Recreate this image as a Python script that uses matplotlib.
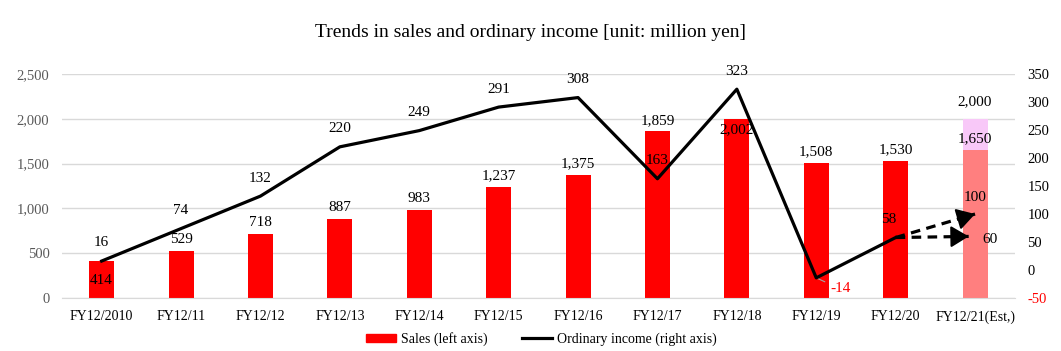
import matplotlib.pyplot as plt
import numpy as np
from matplotlib.patches import Patch
from matplotlib.lines import Line2D

plt.rcParams['font.family'] = ['Liberation Serif', 'DejaVu Serif']

# Data
years = ["FY12/2010", "FY12/11", "FY12/12", "FY12/13", "FY12/14", "FY12/15",
         "FY12/16", "FY12/17", "FY12/18", "FY12/19", "FY12/20", "FY12/21(Est,)"]
sales = [414, 529, 718, 887, 983, 1237, 1375, 1859, 2002, 1508, 1530, 1650]
sales_est_high = 2000
income = [16, 74, 132, 220, 249, 291, 308, 163, 323, -14, 58]
income_est = [100, 60]

x = np.arange(len(years))

fig = plt.figure(figsize=(10.61, 3.51), dpi=100)
ax = fig.add_axes([0.0584, 0.151, 0.898, 0.638])
ax2 = ax.twinx()

# Bars
colors = ["#FF0000"] * (len(years) - 1) + ["#FF7F7F"]
ax.bar(x, sales, width=0.315, color=colors, zorder=2)
ax.bar(x[-1], sales_est_high - sales[-1], bottom=sales[-1], width=0.315,
       color="#F8C8F8", zorder=2)

ax.set_xlim(-0.5, len(years) - 0.5)
ax.set_ylim(0, 2500)
ax.set_yticks(np.arange(0, 2501, 500))
ax.set_yticklabels([f"{v:,}" for v in range(0, 2501, 500)], color="#595959", fontsize=10.5)
ax.grid(axis="y", color="#D9D9D9", lw=1, zorder=0)
ax.set_axisbelow(True)
ax.set_xticks(x)
ax.set_xticklabels(years, fontsize=10)
ax.tick_params(axis="both", length=0, pad=9)
for s in ["top", "right", "left"]:
    ax.spines[s].set_visible(False)
ax.spines["bottom"].set_color("#D9D9D9")

# Line on right axis
ax2.plot(x[:len(income)], income, color="black", lw=2.3, zorder=4)
ax2.set_ylim(-50, 350)
ax2.set_yticks(np.arange(-50, 351, 50))
ax2.set_yticklabels([str(v) for v in range(-50, 351, 50)], fontsize=10.5)
ax2.get_yticklabels()[0].set_color("red")
ax2.tick_params(axis="y", length=0, pad=9)
for s in ["top", "right", "left", "bottom"]:
    ax2.spines[s].set_visible(False)

# Dashed arrows for estimates
x0, y0 = x[len(income) - 1], income[-1]
for yt, xt in zip(income_est, [x[-1], x[-1] - 0.08]):
    ax2.plot([x0, xt], [y0, yt], color="black", lw=2.3, ls=(0, (3, 2)), zorder=4)
    ax2.annotate("", xy=(xt, yt), xytext=(x0 + 0.8 * (xt - x0), y0 + 0.8 * (yt - y0)),
                 arrowprops=dict(arrowstyle="-|>,head_length=0.5,head_width=0.3",
                                 color="black", lw=1.5,
                                 mutation_scale=22, shrinkA=0, shrinkB=0), zorder=5)

# Sales labels
fs = 11
for i, v in enumerate(sales):
    if i == 0:
        dy = -14
    elif i == 8:
        dy = -8
    else:
        dy = 8
    ax.annotate(f"{v:,}", (x[i], v), xytext=(0, dy), textcoords="offset points",
                ha="center", va="center", fontsize=fs)
ax.annotate(f"{sales_est_high:,}", (x[-1], sales_est_high), xytext=(0, 12),
            textcoords="offset points", ha="center", va="center", fontsize=fs)

# Income labels
for i, v in enumerate(income):
    if v < 0:
        ax2.annotate(f"{v}", (x[i], v), xytext=(10, -8), textcoords="offset points",
                     ha="left", va="center", fontsize=fs, color="red",
                     arrowprops=dict(arrowstyle="-", color="#A6A6A6", lw=0.8,
                                     shrinkA=2, shrinkB=0))
    elif i == len(income) - 1:
        ax2.annotate(f"{v}", (x[i], v), xytext=(-5, 13), textcoords="offset points",
                     ha="center", va="center", fontsize=fs)
    else:
        ax2.annotate(f"{v}", (x[i], v), xytext=(0, 13), textcoords="offset points",
                     ha="center", va="center", fontsize=fs)
ax2.annotate(f"{income_est[0]}", (x[-1], income_est[0]), xytext=(0, 12),
             textcoords="offset points", ha="center", va="center", fontsize=fs)
ax2.annotate(f"{income_est[1]}", (x[-1], income_est[1]), xytext=(11, -2),
             textcoords="offset points", ha="center", va="center", fontsize=fs)

# Title and legend
fig.text(0.5, 0.908, "Trends in sales and ordinary income [unit: million yen]",
         ha="center", va="center", fontsize=14)
handles = [Patch(color="#FF0000", label="Sales (left axis)"),
           Line2D([0], [0], color="black", lw=2.3, label="Ordinary income (right axis)")]
fig.legend(handles=handles, loc="center", bbox_to_anchor=(0.51, 0.035), ncol=2,
           frameon=False, fontsize=10, handlelength=2.2, handleheight=0.5,
           handletextpad=0.3, columnspacing=2.5)

fig.savefig("out.png", dpi=100)
